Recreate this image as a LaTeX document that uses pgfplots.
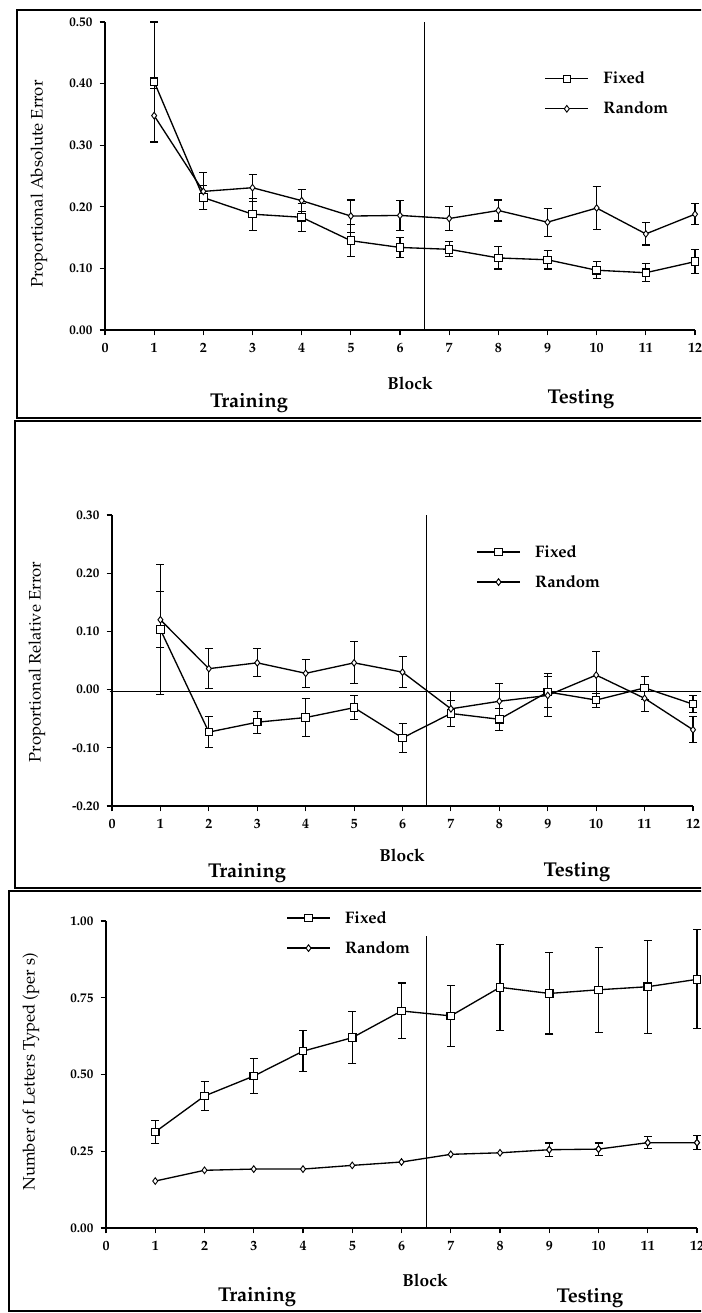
\documentclass[border=0pt]{standalone}
\usepackage[T1]{fontenc}
\usepackage{mathpazo}
\usepackage{pgfplots}
\pgfplotsset{compat=1.18}
\pgfplotsset{
  panel/.style={
    scale only axis,
    anchor=south west,
    axis lines*=left,
    axis line style={line width=0.9pt, black},
    xmin=0, xmax=12,
    xtick={0,1,2,3,4,5,6,7,8,9,10,11,12},
    xticklabels={0,1,2,3,4,5,6,7,8,9,10,11,12},
    tick align=outside,
    major tick length=4pt,
    tick style={line width=0.8pt, black},
    tick label style={font=\fontsize{9.8}{11}\selectfont\bfseries},
    xticklabel style={yshift=-2pt, font=\fontsize{10.5}{11}\selectfont\bfseries},
    yticklabel style={xshift=-2pt},
    clip=false,
    legend cell align=left,
    legend style={draw=none, fill=none, font=\fontsize{12.5}{14}\selectfont\bfseries, row sep=8pt, column sep=9pt, anchor=north west, inner sep=0pt},
    legend image code/.code={\draw[mark repeat=2,mark phase=2,#1] plot coordinates {(0pt,0pt)(16pt,0pt)(32pt,0pt)};},
  },
  ebars/.style={error bars/y dir=both, error bars/y explicit,
    error bars/error bar style={line width=0.8pt, black},
    error bars/error mark options={rotate=90, mark size=3pt, line width=0.8pt, black}},
  fixed/.style={black, line width=1pt, mark=square*, mark size=2.8pt, mark options={fill=white, line width=0.8pt, solid}, ebars},
  randomnb/.style={black, line width=1pt, mark=diamond*, mark size=2.5pt, mark options={fill=white, line width=0.7pt, solid}},
  random/.style={randomnb, ebars},
}
\begin{document}
\begin{tikzpicture}
\clip (0pt,0pt) rectangle (525.75pt,-984.75pt);
% ---------- Panel 1 ----------
\begin{axis}[panel, at={(78.75pt,-247.5pt)}, width=442.5pt, height=231pt,
  ymin=0, ymax=0.5, ytick={0,0.1,0.2,0.3,0.4,0.5},
  yticklabels={0.00,0.10,0.20,0.30,0.40,0.50},
  legend style={at={(0.745,0.848)}}]
\addplot[fixed] coordinates {
(1,0.403)+-(0,0.097) (2,0.215)+-(0,0.02) (3,0.188)+-(0,0.026) (4,0.183)+-(0,0.023)
(5,0.145)+-(0,0.026) (6,0.134)+-(0,0.016) (7,0.131)+-(0,0.012) (8,0.117)+-(0,0.018)
(9,0.114)+-(0,0.015) (10,0.097)+-(0,0.014) (11,0.093)+-(0,0.015) (12,0.111)+-(0,0.019)};
\addlegendentry{Fixed}
\addplot[random] coordinates {
(1,0.348)+-(0,0.044) (2,0.225)+-(0,0.03) (3,0.231)+-(0,0.022) (4,0.210)+-(0,0.018)
(5,0.185)+-(0,0.026) (6,0.186)+-(0,0.024) (7,0.181)+-(0,0.02) (8,0.194)+-(0,0.017)
(9,0.175)+-(0,0.023) (10,0.198)+-(0,0.035) (11,0.156)+-(0,0.018) (12,0.188)+-(0,0.017)};
\addlegendentry{Random}
\addplot[black, line width=0.8pt, mark=none, forget plot] coordinates {(6.5,0) (6.5,0.5)};
\end{axis}
% ---------- Panel 2 ----------
\begin{axis}[panel, at={(84pt,-604.5pt)}, width=435.75pt, height=218.25pt,
  ymin=-0.2, ymax=0.3, ytick={-0.2,-0.1,0,0.1,0.2,0.3},
  yticklabels={-0.20,-0.10,0.00,0.10,0.20,0.30},
  legend style={at={(0.627,0.907)}}]
\addplot[black, line width=0.8pt, mark=none, forget plot] coordinates {(-0.05,-0.004) (12.2,-0.004)};
\addplot[black, line width=0.8pt, mark=none, forget plot] coordinates {(6.5,-0.2) (6.5,0.3)};
\addplot[fixed] coordinates {
(1,0.103)+-(0,0.112) (2,-0.073)+-(0,0.026) (3,-0.056)+-(0,0.019) (4,-0.048)+-(0,0.032)
(5,-0.031)+-(0,0.021) (6,-0.083)+-(0,0.025) (7,-0.041)+-(0,0.023) (8,-0.051)+-(0,0.019)
(9,-0.004)+-(0,0.027) (10,-0.018)+-(0,0.012) (11,0.003)+-(0,0.02) (12,-0.025)+-(0,0.015)};
\addlegendentry{Fixed}
\addplot[random] coordinates {
(1,0.120)+-(0,0.048) (2,0.036)+-(0,0.034) (3,0.046)+-(0,0.024) (4,0.028)+-(0,0.024)
(5,0.046)+-(0,0.036) (6,0.030)+-(0,0.027) (7,-0.033)+-(0,0.03) (8,-0.020)+-(0,0.03)
(9,-0.010)+-(0,0.037) (10,0.025)+-(0,0.04) (11,-0.015)+-(0,0.022) (12,-0.069)+-(0,0.022)};
\addlegendentry{Random}
\end{axis}
% ---------- Panel 3 ----------
\begin{axis}[panel, at={(79.5pt,-921pt)}, width=443.25pt, height=230.25pt,
  ymin=0, ymax=1, ytick={0,0.25,0.5,0.75,1},
  yticklabels={0.00,0.25,0.50,0.75,1.00},
  legend style={at={(0.305,1.042)}}]
\addplot[fixed] coordinates {
(1,0.313)+-(0,0.038) (2,0.430)+-(0,0.048) (3,0.495)+-(0,0.056) (4,0.576)+-(0,0.066)
(5,0.620)+-(0,0.085) (6,0.707)+-(0,0.091) (7,0.691)+-(0,0.1) (8,0.784)+-(0,0.14)
(9,0.764)+-(0,0.132) (10,0.776)+-(0,0.139) (11,0.786)+-(0,0.152) (12,0.810)+-(0,0.161)};
\addlegendentry{Fixed}
\addplot[randomnb] coordinates {
(1,0.153) (2,0.188) (3,0.192) (4,0.192) (5,0.204) (6,0.215)
(7,0.240) (8,0.245) (9,0.255) (10,0.257) (11,0.278) (12,0.278)};
\addlegendentry{Random}
\addplot[only marks, random, forget plot] coordinates {
(9,0.255)+-(0,0.022) (10,0.257)+-(0,0.02) (11,0.278)+-(0,0.02) (12,0.278)+-(0,0.022)};
\addplot[black, line width=0.8pt, mark=none, forget plot] coordinates {(6.5,0) (6.5,0.95)};
\end{axis}
% ---------- Texts and frames ----------
\begin{scope}[x=0.75pt,y=-0.75pt]
\draw[line width=1.2pt] (720,10) -- (17,10) -- (17,418) -- (720,418);
\draw[line width=1.2pt] (720,421) -- (15,421) -- (15,888) -- (720,888);
\draw[line width=1.2pt] (720,891) -- (9,891) -- (9,1311) -- (720,1311);
\tikzset{lab/.style={font=\fontsize{13}{15}\selectfont\bfseries},
         big/.style={font=\fontsize{15}{17}\selectfont\bfseries},
         yl/.style={font=\fontsize{12.5}{14}\selectfont, rotate=90}}
\node[lab] at (410,383) {Block};
\node[big] at (249,403) {Training};
\node[big] at (581,399) {Testing};
\node[yl] at (39,184) {Proportional Absolute Error};
\node[lab] at (402,855) {Block};
\node[big] at (247,873) {Training};
\node[big] at (577,872) {Testing};
\node[yl] at (37,662) {Proportional Relative Error};
\node[lab] at (425,1280) {Block};
\node[big] at (257,1297) {Training};
\node[big] at (590,1298) {Testing};
\node[yl] at (31,1072) {Number of Letters Typed (per s)};
\end{scope}
\end{tikzpicture}
\end{document}
